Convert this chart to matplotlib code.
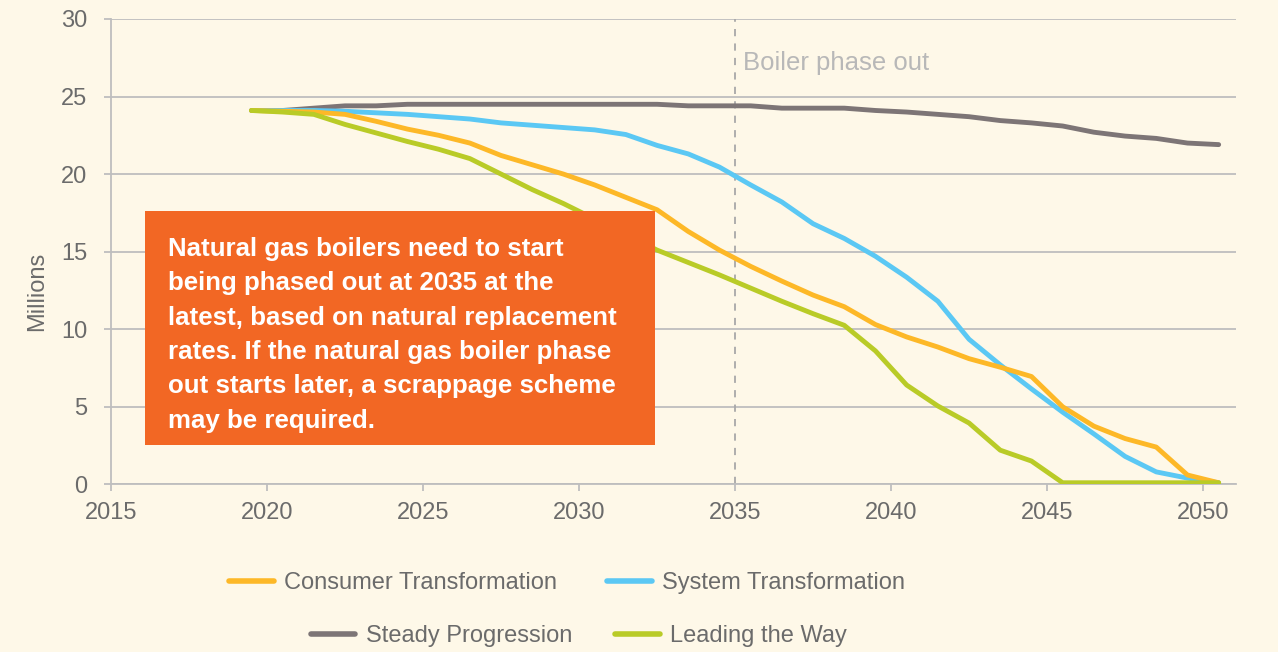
import numpy as np
import matplotlib
matplotlib.use('Agg')
import matplotlib.pyplot as plt
from matplotlib.lines import Line2D

# Years (points sit in the middle of each year band)
years = np.arange(2019, 2051) + 0.5

consumer = [24.1, 24.05, 24.0, 23.85, 23.4, 22.9, 22.5, 22.0, 21.2, 20.6, 20.0,
            19.3, 18.5, 17.7, 16.3, 15.1, 14.05, 13.1, 12.2, 11.45, 10.3, 9.5,
            8.85, 8.1, 7.55, 6.95, 5.0, 3.75, 2.95, 2.4, 0.6, 0.1]
system = [24.1, 24.1, 24.1, 24.05, 23.95, 23.85, 23.7, 23.55, 23.3, 23.15, 23.0,
          22.85, 22.55, 21.85, 21.3, 20.45, 19.3, 18.2, 16.8, 15.85, 14.7, 13.35,
          11.8, 9.35, 7.7, 6.15, 4.65, 3.25, 1.8, 0.8, 0.4, 0.1]
steady = [24.1, 24.1, 24.25, 24.4, 24.4, 24.5, 24.5, 24.5, 24.5, 24.5, 24.5,
          24.5, 24.5, 24.5, 24.4, 24.4, 24.4, 24.25, 24.25, 24.25, 24.1, 24.0,
          23.85, 23.7, 23.45, 23.3, 23.1, 22.7, 22.45, 22.3, 22.0, 21.9]
leading = [24.1, 24.0, 23.85, 23.2, 22.65, 22.1, 21.6, 21.0, 20.0, 19.0, 18.1,
           17.1, 16.1, 15.1, 14.3, 13.5, 12.65, 11.8, 11.0, 10.25, 8.6, 6.4,
           5.05, 3.95, 2.2, 1.5, 0.1, 0.1, 0.1, 0.1, 0.1, 0.1]

x_ticks = [2015, 2020, 2025, 2030, 2035, 2040, 2045, 2050]
y_ticks = [0, 5, 10, 15, 20, 25, 30]

note = ("Natural gas boilers need to start\n"
        "being phased out at 2035 at the\n"
        "latest, based on natural replacement\n"
        "rates. If the natural gas boiler phase\n"
        "out starts later, a scrappage scheme\n"
        "may be required.")

bg = '#FEF8E8'
c_orange = '#FDB827'
c_blue = '#5BC8F4'
c_gray = '#7D7576'
c_green = '#B9CB27'
c_box = '#F26724'
c_text = '#6B6B6B'
c_grid = '#BEBEBE'

plt.rcParams['font.family'] = ['Liberation Sans', 'DejaVu Sans']

fig = plt.figure(figsize=(12.78, 6.52), dpi=100, facecolor=bg)
ax = fig.add_axes([0.0869, 0.2572, 0.967 - 0.0869, 0.9709 - 0.2572])
ax.set_facecolor(bg)

lw = 3.5
ax.plot(years, steady, color=c_gray, lw=lw, solid_capstyle='round', zorder=3)
ax.plot(years, system, color=c_blue, lw=lw, solid_capstyle='round', zorder=3)
ax.plot(years, consumer, color=c_orange, lw=lw, solid_capstyle='round', zorder=4)
ax.plot(years, leading, color=c_green, lw=lw, solid_capstyle='round', zorder=5)

ax.axvline(2035, color='#A8A8A8', lw=1.3, ls=(0, (4, 4)), zorder=2)
ax.text(2035.25, 27.15, 'Boiler phase out', color='#B8B8B8', fontsize=18.5,
        va='center', ha='left')

ax.set_xlim(2015, 2051.05)
ax.set_ylim(0, 30)
ax.set_xticks(x_ticks)
ax.set_yticks(y_ticks)
ax.yaxis.grid(True, color=c_grid, lw=1.3)
ax.set_axisbelow(True)
for s in ['top', 'right']:
    ax.spines[s].set_visible(False)
for s in ['left', 'bottom']:
    ax.spines[s].set_color(c_grid)
    ax.spines[s].set_linewidth(1.3)
ax.tick_params(axis='both', colors=c_grid, labelcolor=c_text, labelsize=17,
               length=5, width=1.3)
ax.tick_params(axis='y', pad=12)
ax.tick_params(axis='x', pad=8)
ax.set_ylabel('Millions', color=c_text, fontsize=17)
ax.yaxis.set_label_coords(-0.056, 0.415)

# annotation box
box = plt.Rectangle((145 / 1278, 1 - 445 / 652), (655 - 145) / 1278, (445 - 211) / 652,
                    transform=fig.transFigure, facecolor=c_box, edgecolor='none', zorder=6)
fig.add_artist(box)
fig.text(168 / 1278, 1 - 237 / 652, note, color='white', fontsize=18.6,
         fontweight='bold', va='top', ha='left', linespacing=1.545, zorder=7)

def handle(c):
    return Line2D([0], [0], color=c, lw=4, solid_capstyle='round')

leg_kw = dict(ncol=2, frameon=False, fontsize=17, handlelength=1.9,
              handletextpad=0.45, labelcolor=c_text)
fig.legend([handle(c_orange), handle(c_blue)],
           ['Consumer Transformation', 'System Transformation'],
           loc='center', bbox_to_anchor=(0.4437, 0.106), columnspacing=2.1, **leg_kw)
fig.legend([handle(c_gray), handle(c_green)],
           ['Steady Progression', 'Leading the Way'],
           loc='center', bbox_to_anchor=(0.453, 0.0245), columnspacing=1.8, **leg_kw)

fig.savefig('out.png', dpi=100, facecolor=bg)
